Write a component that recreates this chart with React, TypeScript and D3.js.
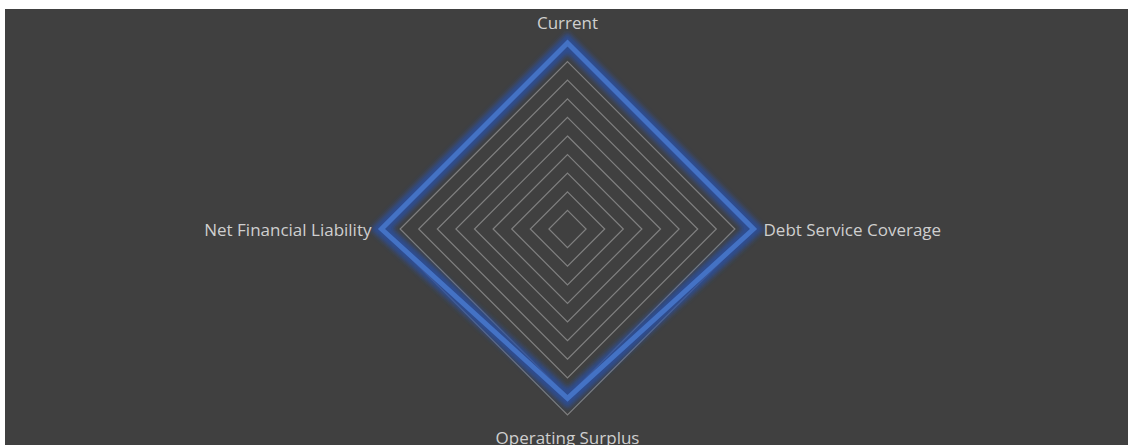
import React from "react";
import * as d3 from "d3";

const axes = ["Current", "Debt Service Coverage", "Operating Surplus", "Net Financial Liability"];
const values = [10, 10, 9.1, 10];
const gridLevels = [1, 2, 3, 4, 5, 6, 7, 8, 9, 10];

export default function App() {
  const W = 1128, H = 445;
  const cx = 567.5, cy = 229, R = 186;
  const r = d3.scaleLinear().domain([0, 10]).range([0, R]);
  const angle = (i: number) => (i * 2 * Math.PI) / axes.length;
  const line = d3.lineRadial<number>()
    .angle((_, i) => angle(i))
    .radius((d) => r(d))
    .curve(d3.curveLinearClosed);
  const seriesPath = line(values) || "";
  const font = "'Open Sans', sans-serif";
  const labelColor = "#cfcfcf";
  const fs = 17;
  return (
    <svg width={W} height={H} style={{ position: "absolute", left: 0, top: 0 }}>
      <defs>
        <filter id="glow" x="-20%" y="-20%" width="140%" height="140%">
          <feGaussianBlur stdDeviation="2.5" />
        </filter>
      </defs>
      <rect x={5} y={9} width={W - 5} height={H - 9} fill="#404040" />
      <g transform={`translate(${cx},${cy})`}>
        {gridLevels.map((lv) => (
          <path key={lv} d={line(axes.map(() => lv)) || ""} fill="none" stroke="#808080" strokeWidth={1.2} />
        ))}
        <path d={seriesPath} fill="none" stroke="#2a50a0" strokeWidth={15} strokeOpacity={0.85} strokeLinejoin="miter" filter="url(#glow)" />
        <path d={seriesPath} fill="none" stroke="#4472c4" strokeWidth={5} strokeLinejoin="miter" />
        <text x={0} y={-R - 21} textAnchor="middle" dominantBaseline="central" fill={labelColor} fontFamily={font} fontSize={fs}>{axes[0]}</text>
        <text x={R + 10} y={0} textAnchor="start" dominantBaseline="central" fill={labelColor} fontFamily={font} fontSize={fs}>{axes[1]}</text>
        <text x={0} y={R + 22} textAnchor="middle" dominantBaseline="central" fill={labelColor} fontFamily={font} fontSize={fs}>{axes[2]}</text>
        <text x={-R - 10} y={0} textAnchor="end" dominantBaseline="central" fill={labelColor} fontFamily={font} fontSize={fs}>{axes[3]}</text>
      </g>
    </svg>
  );
}
